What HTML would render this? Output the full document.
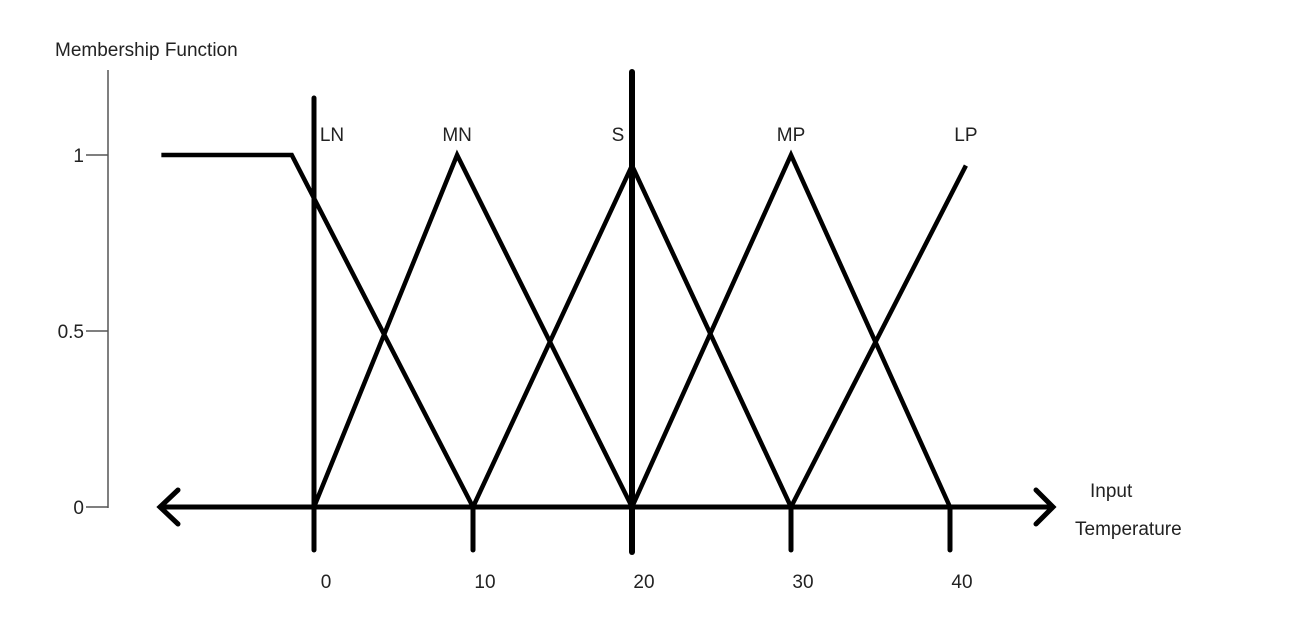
<!DOCTYPE html>
<html><head><meta charset="utf-8"><style>
html,body{margin:0;padding:0;background:#fff;}
svg{display:block;font-family:"Liberation Sans",sans-serif;}
</style></head><body>
<svg id="chart" width="1290" height="626" viewBox="0 0 1290 626">
<text x="55" y="56" font-size="19" fill="#222">Membership Function</text>
<line x1="108" y1="70" x2="108" y2="508" stroke="#555" stroke-width="1.5"/>
<g id="yticks"></g>
<g id="vlines"></g>
<g id="series"></g>
<g id="xaxis">
<line x1="160" y1="507" x2="1052" y2="507" stroke="#000" stroke-width="5"/>
<polyline points="178,490 160,507 178,524" fill="none" stroke="#000" stroke-width="5" stroke-linecap="round"/>
<polyline points="1036,490 1053,507 1036,524" fill="none" stroke="#000" stroke-width="5" stroke-linecap="round"/>
</g>
<g id="xticks"></g>
<text x="1090" y="497" font-size="19" fill="#222">Input</text>
<text x="1075" y="535" font-size="19" fill="#222">Temperature</text>
</svg>
<script>
const xTickValues=[0,10,20,30,40];
const xTickLabels=["0","10","20","30","40"];
const yTickValues=[1,0.5,0];
const yTickLabels=["1","0.5","0"];
const seriesNames=["LN","MN","S","MP","LP"];
const seriesX=[[-9.6,-1.4,10],[0,9,20],[10,20,30],[20,30,40],[30,41]];
const seriesY=[[1,1,0],[0,1,0],[0,0.97,0],[0,1,0],[0,0.97]];
const ns="http://www.w3.org/2000/svg";
function xs(v){return 314+v*15.9;}
function ys(v){return 507-v*352;}
function mk(tag,attrs,parent){const e=document.createElementNS(ns,tag);for(const k in attrs)e.setAttribute(k,attrs[k]);parent.appendChild(e);return e;}
const yt=document.getElementById('yticks');
yTickValues.forEach((v,i)=>{
 const l=mk('line',{x1:86,x2:108,y1:ys(v),y2:ys(v),stroke:'#555','stroke-width':1.5},yt);
 
 
 const t=mk('text',{x:84,y:ys(v)+7,'font-size':19,fill:'#222','text-anchor':'end'},yt);
 t.textContent=yTickLabels[i];
 
 
});
const vl=document.getElementById('vlines');
const v1=mk('line',{x1:xs(0),x2:xs(0),y1:98,y2:550,stroke:'#000','stroke-width':5,'stroke-linecap':'round'},vl);


const v2=mk('line',{x1:xs(20),x2:xs(20),y1:72,y2:552,stroke:'#000','stroke-width':6,'stroke-linecap':'round'},vl);


const xt=document.getElementById('xticks');
xTickValues.forEach((v,i)=>{
 if(v!==0&&v!==20){
  const l=mk('line',{x1:xs(v),x2:xs(v),y1:507,y2:550,stroke:'#000','stroke-width':5,'stroke-linecap':'round'},xt);
  
  
 }
 const t=mk('text',{x:xs(v)+12,y:588,'font-size':19,fill:'#222','text-anchor':'middle'},xt);
 t.textContent=xTickLabels[i];
 
 
});
const sg=document.getElementById('series');
seriesNames.forEach((n,i)=>{
 const pts=seriesX[i].map((x,j)=>xs(x)+','+ys(seriesY[i][j])).join(' ');
 const p=mk('polyline',{points:pts,fill:'none',stroke:'#000','stroke-width':4.5,'stroke-linejoin':'miter'},sg);
 
 
 let mi=0;seriesY[i].forEach((y,j)=>{if(y>=seriesY[i][mi])mi=j;});
 const lx=(n==='LN')?xs(0)+18:(n==='S'?xs(20)-14:xs(seriesX[i][mi]));
 const t=mk('text',{x:lx,y:141,'font-size':19,fill:'#222','text-anchor':'middle'},sg);
 t.textContent=n;
 
 
});
</script>
</body></html>
